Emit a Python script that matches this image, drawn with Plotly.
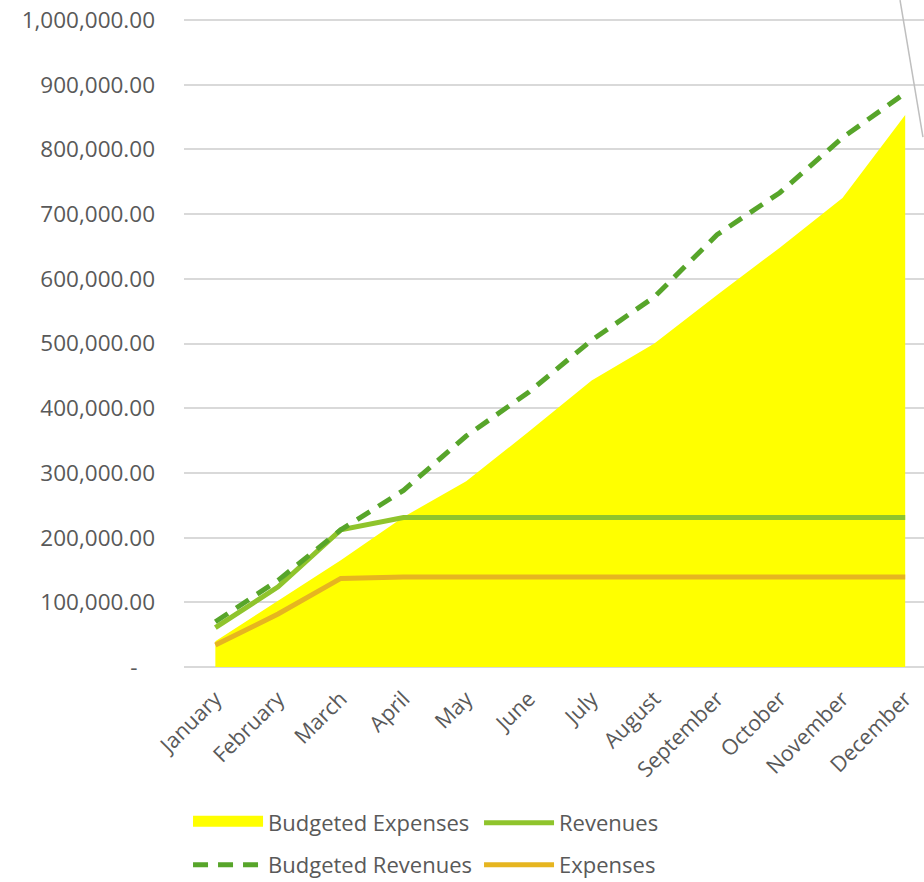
import plotly.graph_objects as go

months = ["January", "February", "March", "April", "May", "June", "July",
          "August", "September", "October", "November", "December"]
budgeted_expenses = [40000, 103000, 165000, 232000, 287000, 364000, 443000,
                     500000, 575000, 648000, 725000, 853000]
budgeted_revenues = [70000, 134000, 212000, 273000, 357000, 425000, 505000,
                     572000, 668000, 733000, 818000, 887000]
revenues = [61000, 124000, 212000, 231000, 231000, 231000, 231000,
            231000, 231000, 231000, 231000, 231000]
expenses = [34000, 82000, 137000, 139000, 139000, 139000, 139000,
            139000, 139000, 139000, 139000, 139000]

ytick_vals = [0, 100000, 200000, 300000, 400000, 500000, 600000, 700000,
              800000, 900000, 1000000]
ytick_text = ["-\u00a0\u00a0\u00a0", "100,000.00", "200,000.00", "300,000.00",
              "400,000.00", "500,000.00", "600,000.00", "700,000.00",
              "800,000.00", "900,000.00", "1,000,000.00"]

FONT = "Open Sans"
GRAY = "#595959"
YELLOW = "#FFFF00"
C_REV = "#8FC42C"
C_BREV = "#57A52A"
C_EXP = "#E6B520"

fig = go.Figure()
# area (drawn first, legend via dummy trace)
fig.add_trace(go.Scatter(x=months, y=budgeted_expenses, name="Budgeted Expenses",
                         mode="lines", fill="tozeroy", fillcolor=YELLOW,
                         line=dict(color=YELLOW, width=0), showlegend=False))
fig.add_trace(go.Scatter(x=months, y=expenses, name="Expenses", mode="lines",
                         line=dict(color=C_EXP, width=5), legend="legend2", legendrank=2))
fig.add_trace(go.Scatter(x=months, y=revenues, name="Revenues", mode="lines",
                         line=dict(color=C_REV, width=5), legend="legend", legendrank=2))
fig.add_trace(go.Scatter(x=months, y=budgeted_revenues, name="Budgeted Revenues",
                         mode="lines", line=dict(color=C_BREV, width=5, dash="15px,10px"),
                         legend="legend2", legendrank=1))
fig.add_trace(go.Scatter(x=[None], y=[None], name="Budgeted Expenses",
                         mode="lines", fill="tozeroy", fillcolor=YELLOW,
                         line=dict(color=YELLOW, width=10), legend="legend", legendrank=1))

fig.add_shape(type="line", xref="paper", yref="paper",
              x0=0.9676, y0=1.0276, x1=0.9986, y1=0.8172,
              line=dict(color="#BFBFBF", width=1.5))

leg_common = dict(orientation="h", xanchor="left", yanchor="top",
                  xref="container", yref="container",
                  itemwidth=70, entrywidth=206, entrywidthmode="pixels",
                  font=dict(family=FONT, size=22, color=GRAY),
                  traceorder="normal", bgcolor="rgba(0,0,0,0)")

fig.update_layout(
    width=924, height=882,
    margin=dict(l=184, r=0, t=18, b=213, autoexpand=False),
    paper_bgcolor="white", plot_bgcolor="white",
    font=dict(family=FONT, color=GRAY, size=22),
    showlegend=True,
    legend=dict(x=0.2035, y=0.0907, **leg_common),
    legend2=dict(x=0.2035, y=0.0431, **leg_common),
    xaxis=dict(range=[-0.5, 11.3], tickangle=-45, showgrid=False, zeroline=False,
               showline=False, ticks="", automargin=False, ticklabelstandoff=12,
               tickfont=dict(family=FONT, size=21.5, color=GRAY)),
    yaxis=dict(range=[-3000, 1003000], tickvals=ytick_vals, ticktext=ytick_text,
               showgrid=True, gridcolor="#D9D9D9", gridwidth=2, zeroline=False,
               ticks="", ticklabelstandoff=28, automargin=False,
               tickfont=dict(family=FONT, size=22.5, color=GRAY)),
)

fig.write_html("out.html", config={"displayModeBar": False},
               post_script="document.body.style.margin='0';document.body.style.overflow='hidden';")
